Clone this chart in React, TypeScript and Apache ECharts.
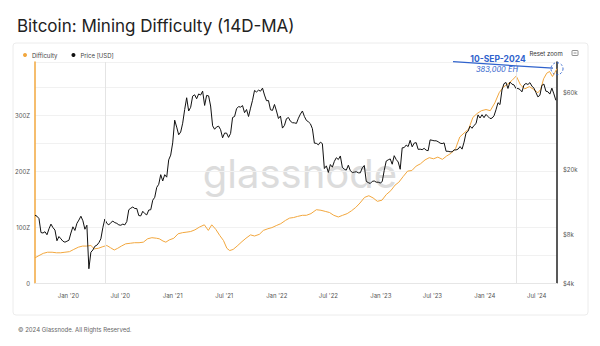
import React, { useEffect, useRef } from 'react';
import * as echarts from 'echarts';

// Weekly BTC price (USD), one array per year with its first weekly date
const price2019Start = '2019-09-06';
const price2019 = [10500, 10350, 10000, 8200, 8150, 8300, 7950, 8650, 9250, 8800, 8500, 7300, 7750, 7500, 7250, 7150, 7250];
const price2020Start = '2020-01-03';
const price2020 = [7350, 8150, 8900, 8450, 9350, 9800, 10350, 9700, 8600, 9100, 4900, 6200, 6400, 6750, 6850, 7100, 7500, 8800, 9950, 9350, 9150, 9450, 9650, 9450, 9350, 9150, 9100, 9250, 9150, 9600, 11350, 11600, 11800, 11550, 11550, 10450, 10400, 11100, 10750, 10550, 11300, 11350, 13000, 13550, 15600, 16300, 18700, 17100, 18700, 18050, 23100, 24700];
const price2021Start = '2021-01-01';
const price2021 = [29400, 40600, 36800, 33000, 34300, 38900, 47300, 55900, 46300, 48800, 57200, 58300, 55100, 59000, 58100, 61400, 50100, 57800, 57400, 49700, 37500, 35700, 36900, 37300, 35500, 31600, 33800, 33800, 31800, 33600, 42200, 42800, 47800, 49300, 48900, 50000, 45200, 47300, 42800, 48200, 53900, 62000, 60700, 62300, 61400, 64100, 58100, 53600, 53700, 47100, 46700, 50800, 46300];
const price2022Start = '2022-01-07';
const price2022 = [41600, 43100, 36300, 37700, 41500, 42200, 40000, 39200, 39100, 38800, 41800, 44300, 46300, 42800, 40500, 39700, 38600, 36000, 29300, 29200, 28600, 29700, 29100, 20400, 21200, 19300, 21600, 20800, 22600, 23800, 23200, 24400, 20800, 20200, 19950, 21400, 19800, 19300, 19400, 19500, 19200, 19200, 20600, 21300, 17000, 16700, 16500, 17000, 17100, 16800, 16800, 16600];
const price2023Start = '2023-01-06';
const price2023 = [16950, 19900, 22700, 23100, 23400, 21700, 24500, 23200, 22400, 20200, 27400, 27500, 28500, 27900, 30500, 27800, 29300, 29500, 26800, 26900, 26700, 27200, 26500, 26300, 30700, 30500, 30300, 30300, 29900, 29300, 29100, 29400, 26100, 26100, 25900, 25900, 26600, 26600, 26900, 27900, 26900, 29700, 33900, 34700, 37300, 36200, 37700, 38700, 43800, 41900, 43900, 42100];
const price2024Start = '2024-01-05';
const price2024 = [44100, 42800, 41600, 41800, 43200, 47100, 52100, 50700, 62400, 68300, 69500, 63800, 69900, 67800, 67200, 63800, 63800, 62900, 60800, 67000, 68500, 67500, 69300, 66000, 64100, 60300, 56600, 57900, 66700, 67900, 61400, 60900, 58900, 64100, 59100, 53900];

// Mining difficulty (14D-MA), in Z
const diffDates = ['2019-09-06','2019-09-20','2019-10-05','2019-10-20','2019-11-05','2019-11-20','2019-12-05','2019-12-20','2020-01-05','2020-01-20','2020-02-05','2020-02-20','2020-03-05','2020-03-20','2020-04-01','2020-04-15','2020-05-01','2020-05-15','2020-05-28','2020-06-10','2020-06-22','2020-07-05','2020-07-20','2020-08-05','2020-08-20','2020-09-05','2020-09-20','2020-10-05','2020-10-20','2020-11-05','2020-11-15','2020-11-28','2020-12-08','2020-12-20','2021-01-05','2021-01-20','2021-02-05','2021-02-20','2021-03-05','2021-03-20','2021-04-05','2021-04-22','2021-05-06','2021-05-18','2021-06-01','2021-06-15','2021-06-28','2021-07-10','2021-07-20','2021-08-01','2021-08-15','2021-09-01','2021-09-15','2021-10-01','2021-10-15','2021-11-01','2021-11-15','2021-12-01','2021-12-15','2022-01-01','2022-01-15','2022-02-01','2022-02-15','2022-03-01','2022-03-15','2022-04-01','2022-04-15','2022-05-01','2022-05-20','2022-06-05','2022-06-20','2022-07-05','2022-07-20','2022-08-05','2022-08-20','2022-09-05','2022-09-20','2022-10-05','2022-10-20','2022-11-05','2022-11-20','2022-12-05','2022-12-20','2023-01-05','2023-01-20','2023-02-05','2023-02-20','2023-03-05','2023-03-20','2023-04-05','2023-04-20','2023-05-05','2023-05-20','2023-06-05','2023-06-20','2023-07-05','2023-07-20','2023-08-05','2023-08-20','2023-09-05','2023-09-20','2023-10-05','2023-10-20','2023-11-05','2023-11-20','2023-12-05','2023-12-20','2024-01-05','2024-01-20','2024-02-05','2024-02-20','2024-03-05','2024-03-20','2024-04-05','2024-04-20','2024-05-05','2024-05-20','2024-06-05','2024-06-20','2024-07-05','2024-07-15','2024-07-25','2024-08-05','2024-08-15','2024-08-25','2024-09-02','2024-09-10'];
const diffValues = [45,49,53,55,55,54,54,55,56,60,64,66,66,67,61,62,65,67,63,59,62,66,70,71,72,72,73,79,81,80,79,75,73,77,80,88,90,91,92,95,100,104,94,104,96,85,76,62,58,60,66,74,80,86,84,87,94,97,99,103,106,112,116,117,119,121,121,124,131,130,128,126,121,118,121,124,129,135,143,153,156,152,146,148,158,165,175,180,190,200,201,209,213,220,224,222,225,221,227,232,240,261,268,275,296,303,308,310,308,322,340,350,355,362,370,354,347,351,346,340,346,365,375,378,369,376,383];

const halvingDates = ['2020-05-11', '2024-04-20'];
const leftTicks = [0, 100, 200, 300];
const rightTicks = [4000, 8000, 20000, 60000];
const xLabelDates = ['2020-01-01','2020-07-01','2021-01-01','2021-07-01','2022-01-01','2022-07-01','2023-01-01','2023-07-01','2024-01-01','2024-07-01'];
const xStart = '2019-09-06';
const xEnd = '2024-09-10';
const annotationDate = '10-SEP-2024';
const annotationText = '383,000 EH';

const ts = (s: string) => {
  const [y, m, d] = s.split('-').map(Number);
  return new Date(y, m - 1, d).getTime();
};
const DAY = 86400000;

function weekly(start: string, vals: number[]) {
  const t0 = ts(start);
  return vals.map((v, i) => [t0 + i * 7 * DAY, Math.log10(v)]);
}

const ORANGE = '#f2a73e';
const BLUE = '#2f62cc';

export default function App() {
  const ref = useRef<HTMLDivElement>(null);
  useEffect(() => {
    if (!ref.current) return;
    const chart = echarts.init(ref.current, null, { renderer: 'svg' });
    const priceData = [
      ...weekly(price2019Start, price2019),
      ...weekly(price2020Start, price2020),
      ...weekly(price2021Start, price2021),
      ...weekly(price2022Start, price2022),
      ...weekly(price2023Start, price2023),
      ...weekly(price2024Start, price2024),
    ];
    const diffData = diffDates.map((d, i) => [ts(d), diffValues[i]]);

    const baseGraphic: any[] = [
      { id: 'card', type: 'rect', z: -10, shape: { x: 13, y: 43, width: 575, height: 272, r: 3 }, style: { fill: '#fff', stroke: '#ececec', lineWidth: 1 } },
      { id: 'wm', type: 'text', z: 0, x: 300, y: 173, style: { text: 'glassnode', fontSize: 40, fontFamily: 'Inter', fontWeight: 'normal', fill: '#dcdcdc', align: 'center', verticalAlign: 'middle' } },
      { id: 'reset', type: 'text', x: 546, y: 53, style: { text: 'Reset zoom', fontSize: 6, fontFamily: 'Inter', fill: '#333', align: 'center', verticalAlign: 'middle' } },
      { id: 'icon', type: 'rect', shape: { x: 572, y: 50.5, width: 6, height: 5, r: 0.5 }, style: { fill: 'none', stroke: '#777', lineWidth: 0.8 } },
      { id: 'iconl', type: 'line', shape: { x1: 573.5, y1: 53, x2: 576.5, y2: 53 }, style: { stroke: '#777', lineWidth: 0.8 } },
    ];

    chart.setOption({
      animation: false,
      textStyle: { fontFamily: 'Inter' },
      title: [
        { text: 'Bitcoin: Mining Difficulty (14D-MA)', left: 12, top: 12, textStyle: { fontSize: 17, fontWeight: 'normal', color: '#222', fontFamily: 'Inter' } },
        { text: '© 2024 Glassnode. All Rights Reserved.', left: 13, top: 321, textStyle: { fontSize: 6, fontWeight: 'normal', color: '#666', fontFamily: 'Inter' } },
      ],
      legend: {
        left: 18, top: 47, icon: 'circle', itemWidth: 4, itemHeight: 4, itemGap: 14,
        textStyle: { fontSize: 6, color: '#444' },
        data: ['Difficulty', 'Price [USD]'],
      },
      grid: { left: 35, right: 43, top: 62, bottom: 63 },
      xAxis: {
        type: 'value', min: ts(xStart), max: ts(xEnd),
        axisLine: { show: true, lineStyle: { color: '#e6e6e6' } },
        axisTick: { show: false },
        splitLine: { show: false },
        axisLabel: {
          customValues: xLabelDates.map(ts),
          fontSize: 6, color: '#555', margin: 9,
          formatter: (v: number) => {
            const d = new Date(v);
            return (d.getMonth() === 0 ? 'Jan' : 'Jul') + " '" + String(d.getFullYear()).slice(2);
          },
        },
      },
      yAxis: [
        {
          type: 'value', min: 0, max: 395, interval: 50, position: 'left',
          axisLine: { show: true, lineStyle: { color: ORANGE, width: 1.5 } },
          axisTick: { show: false },
          splitLine: { show: true, lineStyle: { color: '#f1f1f1', width: 1 } },
          axisLabel: {
            fontSize: 6, color: '#555', margin: 5,
            formatter: (v: number) => (leftTicks.includes(v) ? (v === 0 ? '0' : v + 'Z') : ''),
          },
        },
        {
          type: 'value', min: Math.log10(4000), max: Math.log10(93000), position: 'right',
          axisLine: { show: true, lineStyle: { color: '#222', width: 1.5 } },
          axisTick: { show: false },
          splitLine: { show: false },
          axisLabel: {
            customValues: rightTicks.map((v) => Math.log10(v)),
            fontSize: 6, color: '#555', margin: 6,
            formatter: (v: number) => '$' + Math.round(Math.pow(10, v) / 1000) + 'k',
          },
        },
      ],
      series: [
        {
          name: 'Difficulty', type: 'line', yAxisIndex: 0, data: diffData, showSymbol: false,
          color: ORANGE, lineStyle: { color: ORANGE, width: 1 }, z: 3,
          markLine: {
            silent: true, symbol: 'none', label: { show: false },
            lineStyle: { color: '#e4e4e4', type: 'solid', width: 1 },
            data: halvingDates.map((d) => ({ xAxis: ts(d) })),
          },
        },
        {
          name: 'Price [USD]', type: 'line', yAxisIndex: 1, data: priceData, showSymbol: false,
          color: '#111', lineStyle: { color: '#111', width: 1 }, z: 4,
        },
      ],
      graphic: baseGraphic,
    });

    const last = diffData[diffData.length - 1];
    const p = chart.convertToPixel({ seriesIndex: 0 }, last) as number[];
    if (p && isFinite(p[0])) {
      const [px, py] = p;
      chart.setOption({
        graphic: [
          ...baseGraphic,
          { id: 'aline', type: 'line', z: 10, shape: { x1: px - 104, y1: py - 7, x2: px - 4, y2: py - 0.5 }, style: { stroke: BLUE, lineWidth: 1.2 } },
          { id: 'acirc', type: 'circle', z: 10, shape: { cx: px, cy: py, r: 6 }, style: { fill: 'none', stroke: BLUE, lineWidth: 1, lineDash: [2, 2] } },
          { id: 'adate', type: 'text', z: 11, x: px - 59, y: py - 9.5, style: { text: annotationDate, fontSize: 8.5, fontWeight: 'bold', fontFamily: 'Inter', fill: BLUE, align: 'center', verticalAlign: 'middle' } },
          { id: 'aval', type: 'text', z: 11, x: px - 60, y: py + 0.5, style: { text: annotationText, fontSize: 7.5, fontStyle: 'italic', fontFamily: 'Inter', fill: BLUE, align: 'center', verticalAlign: 'middle' } },
        ],
      });
    }
    return () => chart.dispose();
  }, []);
  return <div ref={ref} style={{ position: 'absolute', left: 0, top: 0, width: 600, height: 346, background: '#fff' }} />;
}
